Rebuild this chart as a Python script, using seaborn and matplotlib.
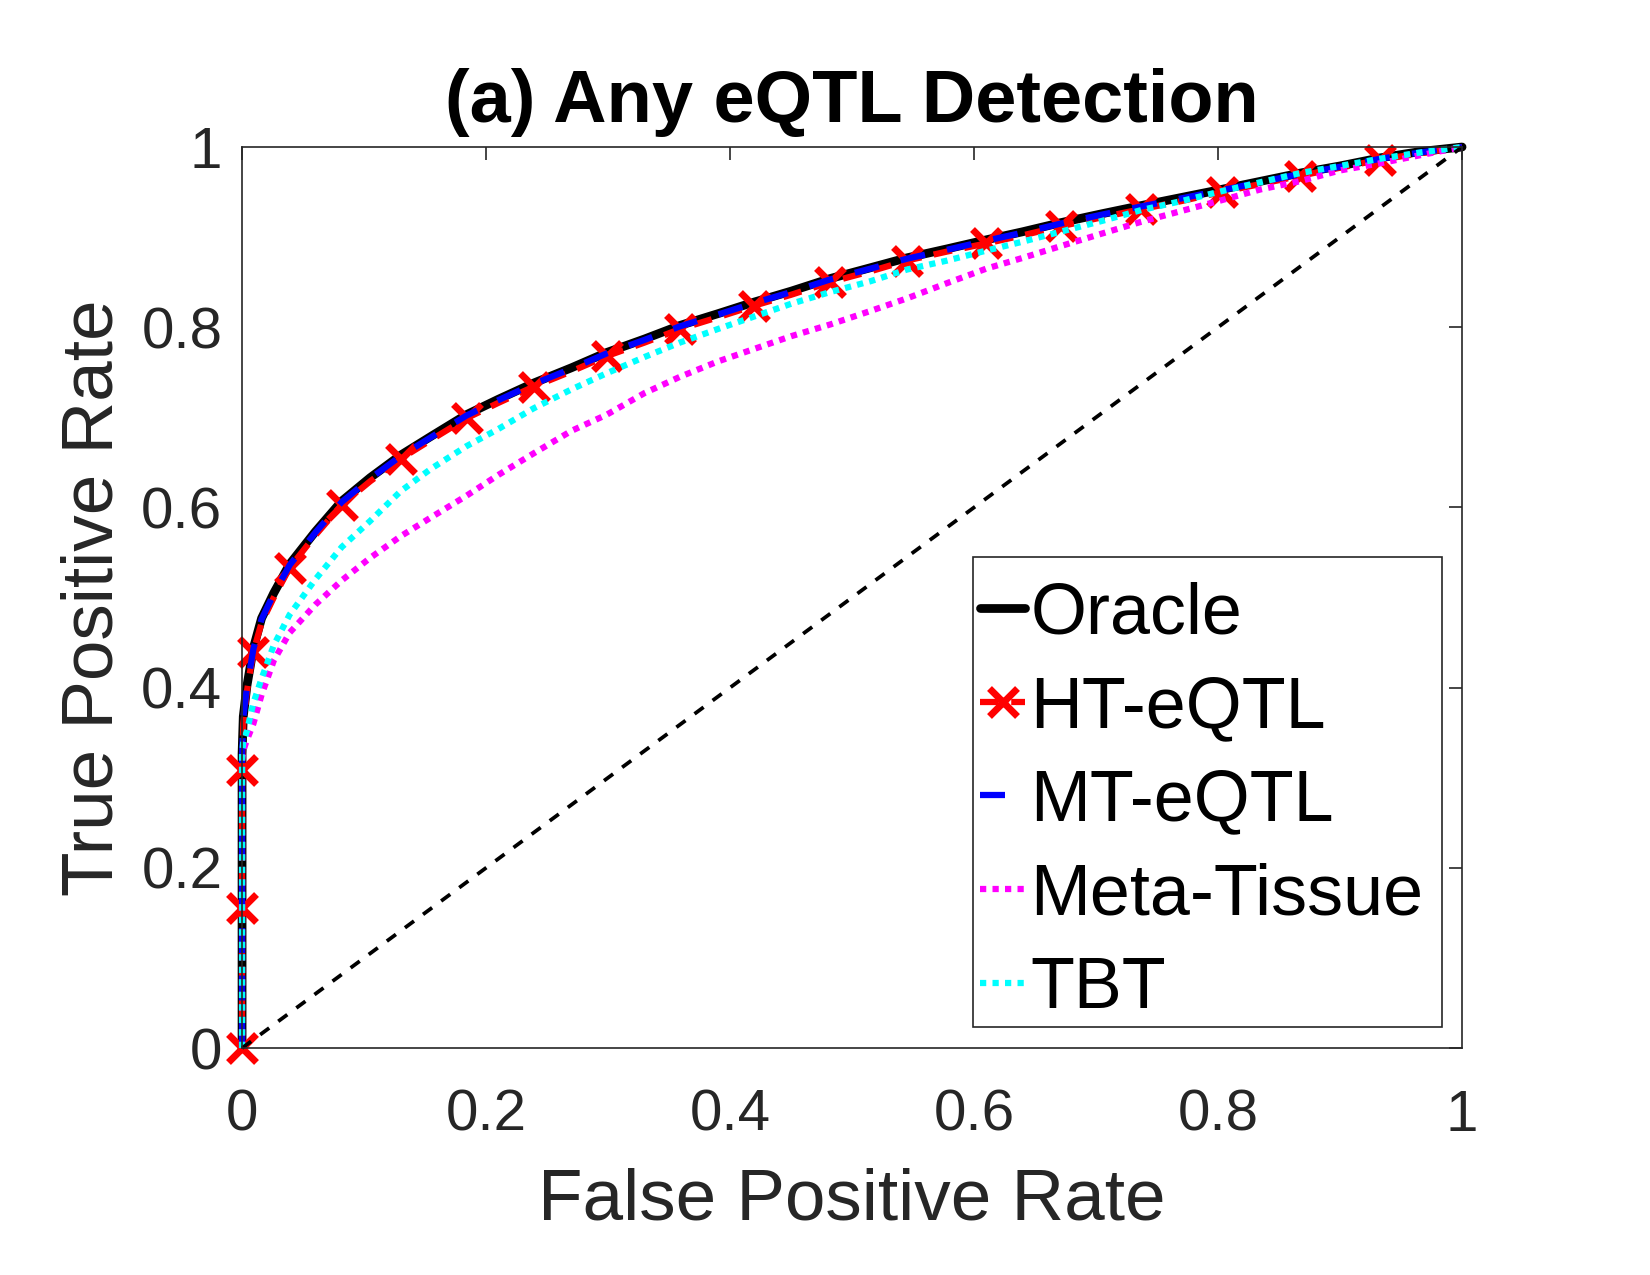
import matplotlib
matplotlib.use("Agg")
import matplotlib.pyplot as plt
import seaborn as sns
from matplotlib.lines import Line2D
from matplotlib.patches import Rectangle

# ==========================================
# DATA
# ==========================================
FPR = [0, 0, 0, 0.001, 0.004, 0.0093, 0.016, 0.026, 0.039, 0.06, 0.0817,
       0.105, 0.13, 0.155, 0.184, 0.21, 0.239, 0.27, 0.299, 0.33, 0.359,
       0.39, 0.42, 0.45, 0.482, 0.515, 0.545, 0.578, 0.61, 0.64, 0.671,
       0.705, 0.737, 0.77, 0.803, 0.835, 0.867, 0.9, 0.933, 0.966, 1.0]

TPR_ORACLE = [0, 0.16, 0.326, 0.368, 0.402, 0.444, 0.477, 0.505, 0.537, 0.573,
              0.607, 0.633, 0.658, 0.679, 0.703, 0.720, 0.738, 0.755, 0.772,
              0.787, 0.802, 0.815, 0.828, 0.840, 0.854, 0.866, 0.877, 0.887,
              0.897, 0.906, 0.916, 0.926, 0.935, 0.944, 0.953, 0.962, 0.971,
              0.979, 0.988, 0.995, 1.0]

TPR_HT = [0, 0.155, 0.309, 0.36, 0.396, 0.44, 0.472, 0.50, 0.533, 0.569,
          0.603, 0.629, 0.654, 0.675, 0.699, 0.716, 0.734, 0.751, 0.768,
          0.783, 0.798, 0.811, 0.824, 0.836, 0.850, 0.862, 0.874, 0.884,
          0.893, 0.902, 0.912, 0.922, 0.931, 0.940, 0.950, 0.959, 0.968,
          0.977, 0.986, 0.993, 1.0]

TPR_MT = [0, 0.16, 0.325, 0.366, 0.400, 0.443, 0.476, 0.504, 0.536, 0.572,
          0.606, 0.632, 0.657, 0.678, 0.702, 0.719, 0.737, 0.754, 0.771,
          0.786, 0.801, 0.814, 0.827, 0.839, 0.853, 0.865, 0.876, 0.886,
          0.896, 0.905, 0.915, 0.925, 0.934, 0.943, 0.952, 0.961, 0.970,
          0.978, 0.987, 0.994, 1.0]

TPR_META = [0, 0.16, 0.32, 0.33, 0.342, 0.36, 0.392, 0.43, 0.461, 0.492,
            0.519, 0.544, 0.568, 0.589, 0.613, 0.636, 0.66, 0.685, 0.703,
            0.727, 0.745, 0.762, 0.776, 0.790, 0.803, 0.818, 0.832, 0.849,
            0.865, 0.877, 0.890, 0.904, 0.917, 0.929, 0.941, 0.953, 0.962,
            0.974, 0.982, 0.991, 1.0]

TPR_TBT = [0, 0.16, 0.326, 0.34, 0.352, 0.383, 0.41, 0.447, 0.481, 0.52,
           0.556, 0.585, 0.618, 0.643, 0.668, 0.687, 0.710, 0.731, 0.749,
           0.767, 0.783, 0.798, 0.812, 0.826, 0.839, 0.851, 0.864, 0.874,
           0.885, 0.895, 0.906, 0.918, 0.930, 0.940, 0.951, 0.961, 0.971,
           0.979, 0.987, 0.994, 1.0]

# indices of FPR where the HT-eQTL crosses are drawn
HT_MARK_IDX = [0, 1, 2, 5, 8, 10, 12, 14, 16, 18, 20, 22, 24, 26, 28, 30,
               32, 34, 36, 38]

CHANCE = [0, 1]

TICKS = [0, 0.2, 0.4, 0.6, 0.8, 1]
TICK_LABELS = ["0", "0.2", "0.4", "0.6", "0.8", "1"]

LABELS = ["Oracle", "HT-eQTL", "MT-eQTL", "Meta-Tissue", "TBT"]
TITLE = "(a) Any eQTL Detection"
# ==========================================

sns.set_theme(style="white")
plt.rcParams['font.family'] = ['Liberation Sans', 'DejaVu Sans']
GRAY = '#262626'

# line styles, MATLAB-like
STYLES = [
    dict(color='black', lw=4.2, linestyle='-'),
    dict(color='red', lw=3.0, linestyle=(0, (3, 2)), marker='x',
         markersize=13.5, markeredgewidth=3.3, mec='red'),
    dict(color='blue', lw=3.0, linestyle=(0, (4, 3.6))),
    dict(color='magenta', lw=3.0, linestyle=(0, (1, 1))),
    dict(color='cyan', lw=3.0, linestyle=(0, (1, 1))),
]
SERIES = [TPR_ORACLE, TPR_HT, TPR_MT, TPR_META, TPR_TBT]

fig = plt.figure(figsize=(11, 8.5), dpi=150)
ax = fig.add_axes([0.1467, 0.178, 0.7394, 0.7067])

for tpr, st in zip(SERIES, STYLES):
    extra = {'markevery': HT_MARK_IDX} if 'marker' in st else {}
    sns.lineplot(x=FPR, y=tpr, sort=False, estimator=None, ax=ax,
                 legend=False, clip_on=False, **st, **extra)

# chance diagonal
sns.lineplot(x=CHANCE, y=CHANCE, color='black', lw=1.8,
             linestyle=(0, (3, 3)), sort=False, estimator=None, ax=ax,
             legend=False, clip_on=False)

ax.set_xlim(0, 1)
ax.set_ylim(0, 1)
ax.set_xticks(TICKS)
ax.set_xticklabels(TICK_LABELS)
ax.set_yticks(TICKS)
ax.set_yticklabels(TICK_LABELS)
ax.tick_params(axis='both', direction='in', length=6.4, width=0.8,
               color=GRAY, labelcolor=GRAY, labelsize=28,
               top=True, right=True)
ax.tick_params(axis='x', pad=19.5)
ax.tick_params(axis='y', pad=9.5)
for sp in ax.spines.values():
    sp.set_color(GRAY)
    sp.set_linewidth(0.8)

ax.set_xlabel("False Positive Rate", fontsize=35, color=GRAY, labelpad=12)
ax.set_ylabel("True Positive Rate", fontsize=35, color=GRAY, labelpad=6.5)
ax.set_title(TITLE, fontsize=35.5, fontweight='bold', color='black', pad=12)

# legend: entries placed without frame, box drawn separately (MATLAB look)
handles = [Line2D([], [], **st) for st in STYLES]
leg = ax.legend(handles, LABELS, loc='upper left',
                bbox_to_anchor=(0.605, 0.518), borderaxespad=0,
                fontsize=34.5, handlelength=0.63, handletextpad=0.07,
                labelspacing=0.37, borderpad=0, frameon=False)
for t in leg.get_texts():
    t.set_color('black')
ax.add_patch(Rectangle((0.599, 0.0233), 0.3844, 0.5216,
                       transform=ax.transAxes, facecolor='white',
                       edgecolor=GRAY, lw=0.8, zorder=4))
leg.set_zorder(5)

fig.savefig("out.png", dpi=150)
